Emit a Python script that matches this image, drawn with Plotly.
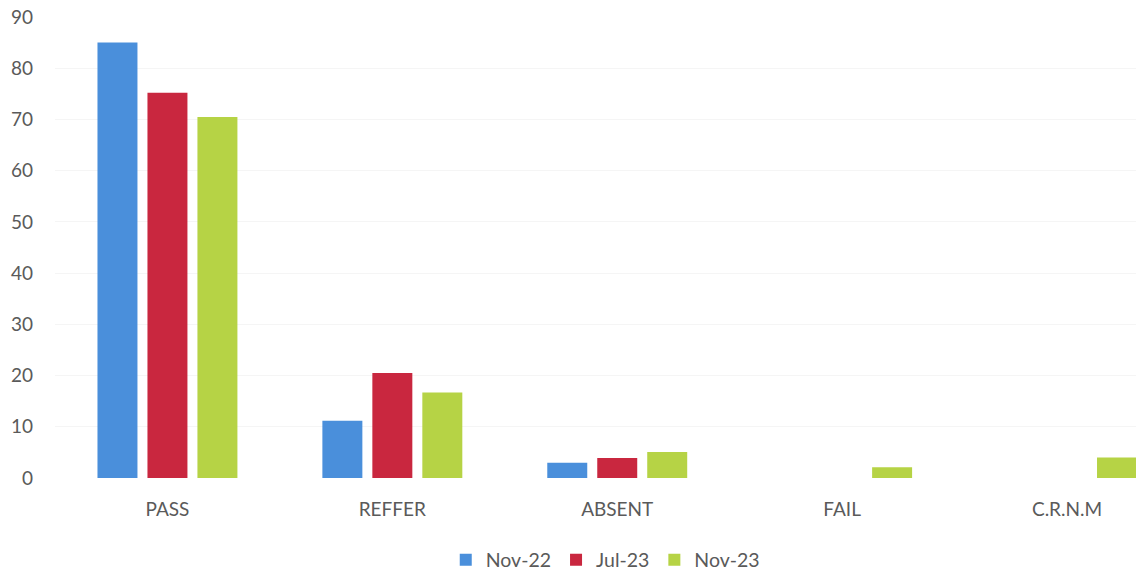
import plotly.graph_objects as go

# Result categories and counts per exam session
categories = ["PASS", "REFFER", "ABSENT", "FAIL", "C.R.N.M"]
nov22 = [85, 11.2, 3, None, None]
jul23 = [75.2, 20.5, 3.9, None, None]
nov23 = [70.5, 16.7, 5.1, 2.1, 4]

series = [
    ("Nov-22", nov22, "#4a8fdb"),
    ("Jul-23", jul23, "#c9273f"),
    ("Nov-23", nov23, "#b6d345"),
]

fig = go.Figure()
for name, vals, color in series:
    fig.add_trace(go.Bar(
        x=categories, y=vals, name=name,
        marker=dict(color=color, line=dict(width=0)),
    ))

font_family = "Lato, 'Open Sans', sans-serif"
W, H = 1136, 572
left, top, bottom = 54.5, 17, 94.3
cat_px = 225.0
plot_w = W - left
plot_h = H - top - bottom
# visible category span: the plot area continues past the right edge
visible = plot_w / cat_px

fig.update_layout(
    width=W, height=H,
    margin=dict(l=left, r=0, t=top, b=bottom, pad=0, autoexpand=False),
    paper_bgcolor="white", plot_bgcolor="white",
    barmode="group", bargap=1 - 150 / 225, bargroupgap=0.2,
    font=dict(family=font_family, size=19, color="#5a5a5a"),
    showlegend=True,
    legend=dict(
        orientation="h", x=(605 - left) / plot_w, xanchor="center",
        y=-82 / plot_h, yanchor="middle",
        font=dict(size=19.5, color="#5a5a5a"), traceorder="normal",
        itemwidth=30, itemsizing="constant",
    ),
    xaxis=dict(
        range=[-0.5, -0.5 + visible], showgrid=False, zeroline=False,
        showline=False, ticks="", ticklabelstandoff=18,
        tickfont=dict(size=19, color="#5a5a5a"),
    ),
    yaxis=dict(
        range=[0, 90], dtick=10, showgrid=True, gridcolor="#f5f5f5",
        gridwidth=1, zeroline=False, showline=False, ticks="",
        ticklabelstandoff=21, tickfont=dict(size=19, color="#5a5a5a"),
    ),
)

fig.write_html("out.html")
